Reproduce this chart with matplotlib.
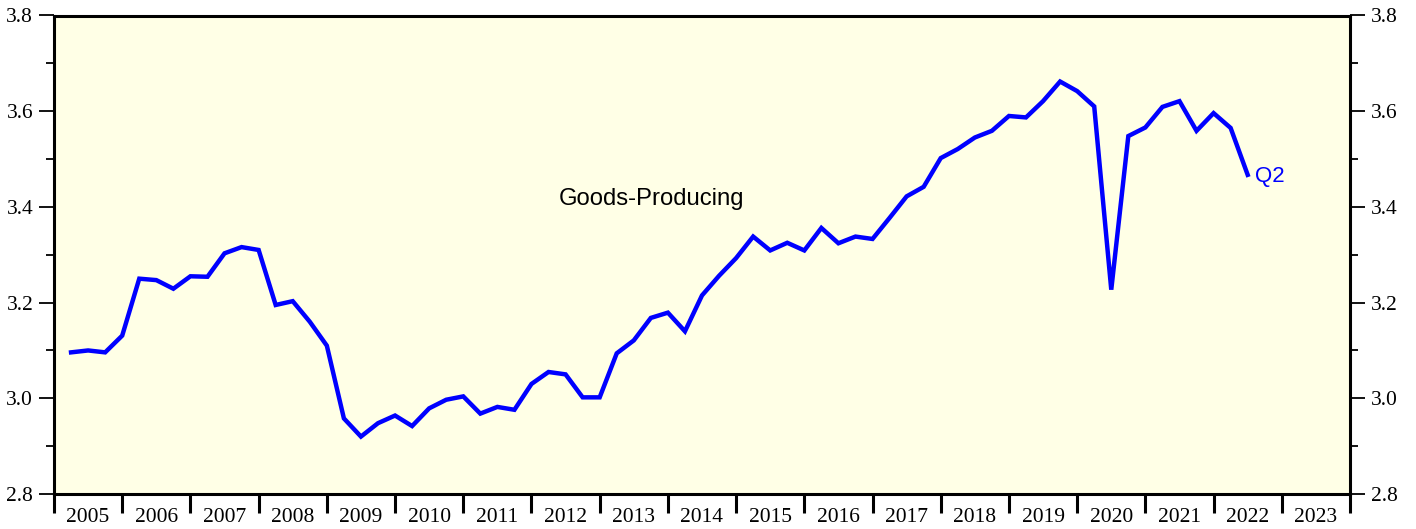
import numpy as np
import matplotlib
matplotlib.use("Agg")
import matplotlib.pyplot as plt
from matplotlib.ticker import MultipleLocator, FixedLocator, NullFormatter

# Quarterly values, 2005 Q1 .. 2022 Q2
start_year = 2005
values = [
    3.096, 3.100, 3.096, 3.131,   # 2005
    3.250, 3.247, 3.229, 3.255,   # 2006
    3.254, 3.303, 3.316, 3.310,   # 2007
    3.195, 3.203, 3.160, 3.110,   # 2008
    2.958, 2.920, 2.948, 2.964,   # 2009
    2.942, 2.979, 2.997, 3.004,   # 2010
    2.968, 2.982, 2.976, 3.030,   # 2011
    3.055, 3.050, 3.002, 3.002,   # 2012
    3.094, 3.121, 3.168, 3.179,   # 2013
    3.140, 3.215, 3.256, 3.293,   # 2014
    3.338, 3.309, 3.325, 3.309,   # 2015
    3.356, 3.324, 3.338, 3.333,   # 2016
    3.377, 3.422, 3.442, 3.502,   # 2017
    3.521, 3.545, 3.559, 3.590,   # 2018
    3.587, 3.621, 3.662, 3.642,   # 2019
    3.610, 3.227, 3.548, 3.566,   # 2020
    3.609, 3.621, 3.559, 3.596,   # 2021
    3.565, 3.467,                 # 2022
]
years = list(range(2005, 2024))
series_label = "Goods-Producing"
end_label = "Q2"

x = start_year + 0.25 * (np.arange(len(values)) + 1)

fig = plt.figure(figsize=(14.16, 5.29), dpi=100)
ax = fig.add_axes([54 / 1416, 1 - 494 / 529, (1350 - 54) / 1416, (494 - 15.5) / 529])
ax.set_facecolor("#FFFFE6")

ax.plot(x, values, color="#0000FF", lw=3.2, solid_joinstyle="miter", zorder=3)

ax.set_xlim(2005, 2024)
ax.set_ylim(2.8, 3.8)

for s in ax.spines.values():
    s.set_linewidth(2.2)
    s.set_color("black")

serif = ["Liberation Serif", "DejaVu Serif"]

# Y axis ticks on both sides
ax.yaxis.set_major_locator(MultipleLocator(0.2))
ax.yaxis.set_minor_locator(MultipleLocator(0.1))
ax.tick_params(axis="y", which="major", direction="out", length=11, width=1.3,
               left=True, right=True, labelleft=True, labelright=True, pad=4,
               labelsize=15.5)
ax.tick_params(axis="y", which="minor", direction="out", length=5.5, width=1.3,
               left=True, right=True)
ax.yaxis.set_major_formatter(matplotlib.ticker.FuncFormatter(lambda v, p: f"{v:.1f}"))
for lab in ax.get_yticklabels(which="both"):
    lab.set_fontfamily(serif)

# X axis: major ticks at year boundaries, labels at mid-year
ax.xaxis.set_major_locator(FixedLocator(list(range(2005, 2025))))
ax.xaxis.set_major_formatter(NullFormatter())
ax.xaxis.set_minor_locator(FixedLocator([y + 0.5 for y in years]))
ax.xaxis.set_minor_formatter(matplotlib.ticker.FixedFormatter([str(y) for y in years]))
ax.tick_params(axis="x", which="major", direction="out", length=13.5, width=2.2)
ax.tick_params(axis="x", which="minor", length=0, pad=10, labelsize=15.5)
for lab in ax.get_xticklabels(which="minor"):
    lab.set_fontfamily(serif)

ax.text(2013.76, 3.417, series_label, ha="center", va="center", fontsize=17.2,
        family=["Liberation Sans", "DejaVu Sans"], color="black")
ax.annotate(end_label, xy=(x[-1], values[-1]), xytext=(5.5, -1), textcoords="offset points",
            ha="left", va="center", fontsize=16, color="#0000FF",
            family=["Liberation Sans", "DejaVu Sans"])

fig.savefig("out.png", dpi=100, facecolor="white")
